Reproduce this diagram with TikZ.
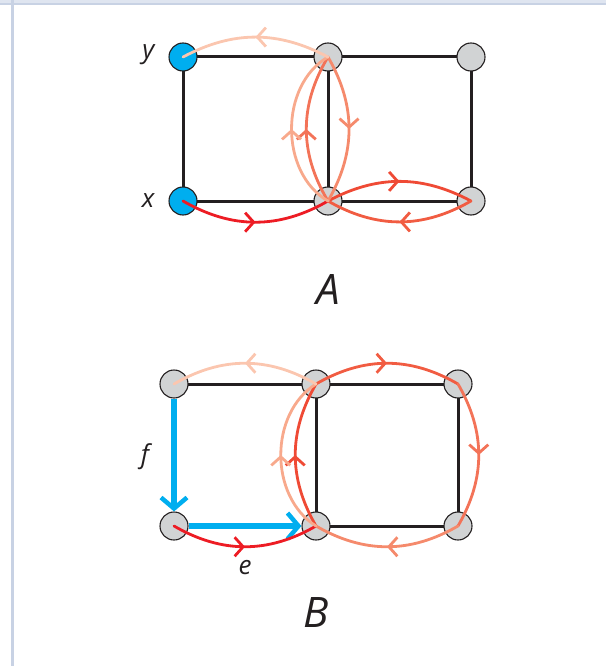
\documentclass[tikz,border=0pt]{standalone}
\usepackage{fontspec}
\setmainfont{Open Sans}
\usetikzlibrary{arrows.meta,decorations.markings}

\definecolor{inkdark}{HTML}{231F20}
\definecolor{vertgray}{HTML}{D1D3D4}
\definecolor{cyanblue}{HTML}{00AEEF}
\definecolor{frameblue}{HTML}{C8D2E4}
\definecolor{framefill}{HTML}{DFE5F0}
\definecolor{walkA}{HTML}{ED1C24}
\definecolor{walkB}{HTML}{EF4A35}
\definecolor{walkC}{HTML}{F15C42}
\definecolor{walkD}{HTML}{F37358}
\definecolor{walkE}{HTML}{F58A6C}
\definecolor{walkF}{HTML}{F8A98C}
\definecolor{walkG}{HTML}{FBC6AF}

\begin{document}
\begin{tikzpicture}[
    x=1pt, y=1pt,
    font=\itshape,
    % Styles
    vertex/.style={circle, fill=vertgray, draw=inkdark, line width=1.1pt, minimum size=28pt, inner sep=0pt},
    root_vertex/.style={vertex, fill=cyanblue},
    grid_edge/.style={inkdark, line width=3pt},
    tree_edge/.style={cyanblue, line width=6pt, -{Straight Barb[length=11pt, width=26pt, line width=4.5pt]}},
    walk/.style={line width=2.8pt, line cap=round, postaction={decorate},
        decoration={markings, mark=at position 0.5 with {\arrow{Straight Barb[length=8.5pt, width=19pt, line width=2.8pt]}}}},
    vlabel/.style={text=inkdark, font=\itshape\fontsize{26}{30}\selectfont},
    caption/.style={text=inkdark, font=\itshape\fontsize{42}{46}\selectfont}
]
    \useasboundingbox (0,0) rectangle (606,-666);

    % ==========================================
    % 1. PAGE FRAME
    % ==========================================
    \fill[framefill] (0,0) rectangle (606,-3.5);
    \draw[frameblue, line width=1.5pt] (0,-4) -- (606,-4);
    \draw[frameblue, line width=3pt] (12.5,0) -- (12.5,-666);

    % ==========================================
    % 2. PANEL A
    % ==========================================
    \coordinate (A1) at (183,-57);
    \coordinate (A2) at (328,-57);
    \coordinate (A3) at (471,-57);
    \coordinate (A4) at (183,-201);
    \coordinate (A5) at (328,-201);
    \coordinate (A6) at (471,-201);

    \draw[grid_edge] (A1) -- (A3) -- (A6) -- (A4) -- cycle;
    \draw[grid_edge] (A2) -- (A5);

    \node[root_vertex] (vA1) at (A1) {};
    \node[root_vertex] (vA4) at (A4) {};
    \foreach \p in {A2, A3, A5, A6} {
        \node[vertex] (v\p) at (\p) {};
    }

    % walk from x to y
    \draw[walk, walkA] (vA4.center) to[bend right=30] (vA5.center);
    \draw[walk, walkB] (vA5.center) to[bend left=28] (vA6.center);
    \draw[walk, walkC] (vA6.center) to[bend left=30] (vA5.center);
    \draw[walk, walkD] (vA5.center) to[bend left=31] (vA2.center);
    \draw[walk, walkE] (vA2.center) to[bend left=30] (vA5.center);
    \draw[walk, walkF] (vA5.center) to[bend left=60] (vA2.center);
    \draw[walk, walkG] (vA2.center) to[bend right=28] (vA1.center);

    \node[vlabel, anchor=east] (lblY) at (158,-55) {y};
    \node[vlabel, anchor=east] (lblX) at (158,-201) {x};
    \node[caption] (capA) at (328,-290) {A};

    % ==========================================
    % 3. PANEL B
    % ==========================================
    \coordinate (B1) at (174,-384);
    \coordinate (B2) at (316,-384);
    \coordinate (B3) at (458,-384);
    \coordinate (B4) at (174,-526);
    \coordinate (B5) at (316,-526);
    \coordinate (B6) at (458,-526);

    \draw[grid_edge] (B1) -- (B3) -- (B6) -- (B5) -- (B2);

    \foreach \p in {B1, B2, B3, B4, B5, B6} {
        \node[vertex] (v\p) at (\p) {};
    }

    % tree edges
    \draw[tree_edge] (vB1) -- (vB4);
    \draw[tree_edge] (vB4) -- (vB5);

    % walk round the right square
    \draw[walk, walkA] (vB4.center) to[bend right=30] (vB5.center);
    \draw[walk, walkB] (vB5.center) to[bend left=30] (vB2.center);
    \draw[walk, walkC] (vB2.center) to[bend left=30] (vB3.center);
    \draw[walk, walkD] (vB3.center) to[bend left=30] (vB6.center);
    \draw[walk, walkE] (vB6.center) to[bend left=30] (vB5.center);
    \draw[walk, walkF] (vB5.center) to[bend left=58] (vB2.center);
    \draw[walk, walkG] (vB2.center) to[bend right=30] (vB1.center);

    \node[vlabel] (lblF) at (145,-457) {f};
    \node[vlabel] (lblE) at (245,-568) {e};
    \node[caption] (capB) at (316,-613) {B};

\end{tikzpicture}
\end{document}
